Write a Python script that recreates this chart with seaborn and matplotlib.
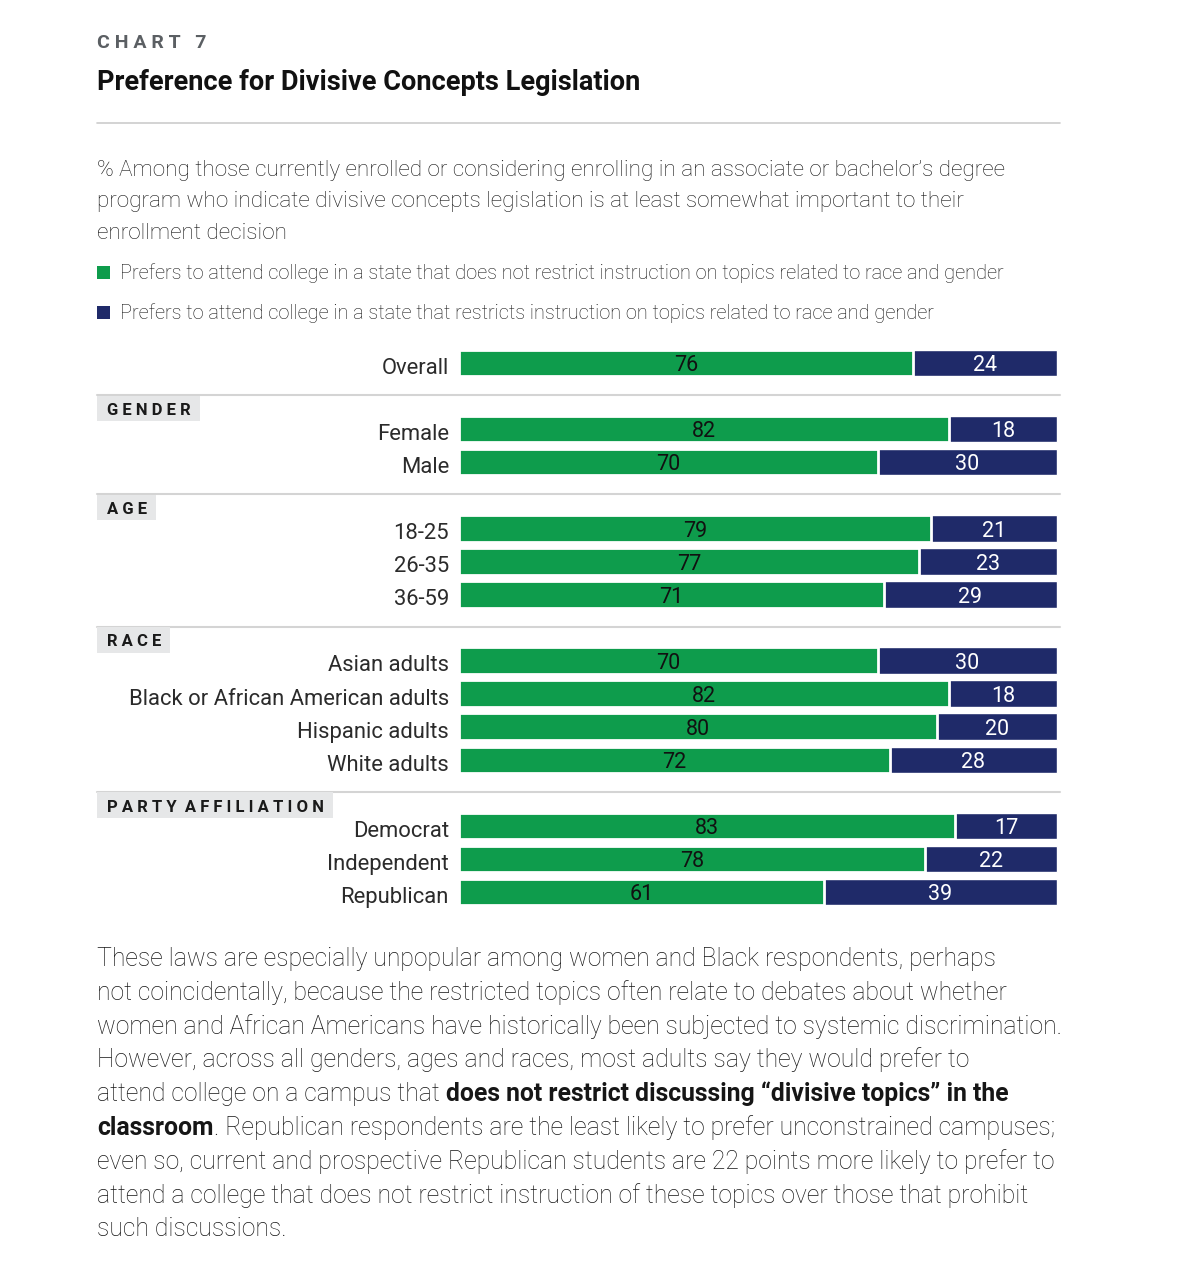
import numpy as np
import pandas as pd
import seaborn as sns
import matplotlib.pyplot as plt
from matplotlib.patches import Rectangle

# data
labels = ["Overall", "Female", "Male", "18-25", "26-35", "36-59",
          "Asian adults", "Black or African American adults", "Hispanic adults", "White adults",
          "Democrat", "Independent", "Republican"]
groups = ["", "GENDER", "GENDER", "AGE", "AGE", "AGE",
          "RACE", "RACE", "RACE", "RACE",
          "PARTY AFFILIATION", "PARTY AFFILIATION", "PARTY AFFILIATION"]
no_restrict = [76, 82, 70, 79, 77, 71, 70, 82, 80, 72, 83, 78, 61]
restrict = [24, 18, 30, 21, 23, 29, 30, 18, 20, 28, 17, 22, 39]

legend_labels = [
    "Prefers to attend college in a state that does not restrict instruction on topics related to race and gender",
    "Prefers to attend college in a state that restricts instruction on topics related to race and gender",
]

GREEN = "#0e9c4c"
NAVY = "#1f2a69"
TXT = "#161616"

# row positions: one blank slot before every new group
pos, p, prev = [], -1, None
for g in groups:
    p += 2 if (prev is not None and g != prev) else 1
    pos.append(p)
    prev = g

df = pd.DataFrame({"label": labels, "group": groups, "pos": pos,
                   "no_restrict": no_restrict, "restrict": restrict})
df["total"] = df["no_restrict"] + df["restrict"]

sns.set_theme(style="white")
plt.rcParams["font.family"] = ["Roboto", "DejaVu Sans"]

W, H = 1187, 1264
fig = plt.figure(figsize=(W / 100, H / 100), dpi=100)


def fx(x):
    return x / W


def fy(y):
    return 1 - y / H


# ---- chart area ----
ppu = 5.98  # pixels per percent
x_left = -(459 - 97) / ppu
x_right = x_left + (1060 - 97) / ppu
ax = fig.add_axes([fx(97), fy(908.5), (1060 - 97) / W, 562 / H])

sns.barplot(data=df, x="total", y="pos", orient="y", native_scale=True,
            color=NAVY, saturation=1, width=0.8, errorbar=None, ax=ax)
sns.barplot(data=df, x="no_restrict", y="pos", orient="y", native_scale=True,
            color=GREEN, saturation=1, width=0.8, errorbar=None, ax=ax,
            edgecolor="white", linewidth=2)

ax.set_xlim(x_left, x_right)
ax.set_ylim(df["pos"].max() + 0.5, -0.5)
ax.axis("off")

for _, r in df.iterrows():
    ax.text(-10 / ppu, r["pos"] + 0.33, r["label"], ha="right", va="baseline",
            fontsize=15.8, color="#2b2b2b")
    ax.text(r["no_restrict"] / 2, r["pos"] + 0.25, str(r["no_restrict"]),
            ha="center", va="baseline", fontsize=15.5, color="#111111")
    ax.text(r["no_restrict"] + r["restrict"] / 2, r["pos"] + 0.25, str(r["restrict"]),
            ha="center", va="baseline", fontsize=15.5, color="white")

# group separators and header tags
fig.canvas.draw()
renderer = fig.canvas.get_renderer()
first = df[df["group"] != ""].groupby("group", sort=False)["pos"].min()
for name, start in first.items():
    line_y = start - 1 - 0.03
    ax.plot([x_left, x_right], [line_y, line_y], color="#d4d4d4", lw=1.5,
            clip_on=False, zorder=1)
    spaced = "  ".join(" ".join(w) for w in name.split())
    t = ax.text(x_left + 10 / ppu, line_y + 0.6, spaced, ha="left", va="baseline",
                fontsize=12, fontweight="bold", color="#1a1a1a", zorder=4)
    bb = t.get_window_extent(renderer)
    ax.add_patch(Rectangle((x_left, line_y + 0.02), (bb.width + 19) / ppu, 0.77,
                           facecolor="#e6e7e8", edgecolor="none", zorder=3,
                           clip_on=False))

# ---- header ----
fig.text(fx(97), fy(48), "C H A R T   7", fontsize=14, fontweight="bold",
         color="#5b5f63", va="baseline")
fig.text(fx(97), fy(90), "Preference for Divisive Concepts Legislation",
         fontsize=19.5, fontweight="bold", color="#111111", va="baseline")
fig.add_artist(plt.Line2D([fx(97), fx(1060)], [fy(123), fy(123)],
                          color="#cccccc", lw=1.2))

subtitle = ["% Among those currently enrolled or considering enrolling in an associate or bachelor\u2019s degree",
            "program who indicate divisive concepts legislation is at least somewhat important to their",
            "enrollment decision"]
for i, s in enumerate(subtitle):
    fig.text(fx(97), fy(176 + i * 31.5), s, fontsize=16.2, fontweight="light",
             color=TXT, va="baseline")

for i, (s, c) in enumerate(zip(legend_labels, [GREEN, NAVY])):
    y = 272 + i * 40
    fig.add_artist(Rectangle((fx(97), fy(y + 7)), 13 / W, 13 / H,
                             transform=fig.transFigure, facecolor=c, edgecolor="none"))
    fig.text(fx(120), fy(y + 7), s, fontsize=14.4, fontweight="light",
             color=TXT, va="baseline")

# ---- body paragraph ----
para = [
    [("These laws are especially unpopular among women and Black respondents, perhaps", "light")],
    [("not coincidentally, because the restricted topics often relate to debates about whether", "light")],
    [("women and African Americans have historically been subjected to systemic discrimination.", "light")],
    [("However, across all genders, ages and races, most adults say they would prefer to", "light")],
    [("attend college on a campus that ", "light"),
     ("does not restrict discussing \u201cdivisive topics\u201d in the", "bold")],
    [("classroom", "bold"),
     (". Republican respondents are the least likely to prefer unconstrained campuses;", "light")],
    [("even so, current and prospective Republican students are 22 points more likely to prefer to", "light")],
    [("attend a college that does not restrict instruction of these topics over those that prohibit", "light")],
    [("such discussions.", "light")],
]
for i, runs in enumerate(para):
    x = 97
    y = 966 + i * 33.8
    for s, w in runs:
        t = fig.text(fx(x), fy(y), s, fontsize=17.8, fontweight=w, color=TXT,
                     va="baseline")
        x += t.get_window_extent(renderer).width

fig.savefig("out.png", dpi=100)
